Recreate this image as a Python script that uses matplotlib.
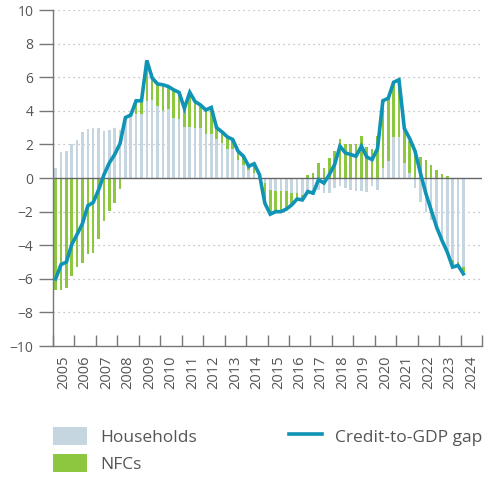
import numpy as np
import matplotlib.pyplot as plt
from matplotlib.patches import Patch
from matplotlib.lines import Line2D

plt.rcParams['font.family'] = ['Open Sans', 'DejaVu Sans']

# === Data: quarterly, 2005 Q1 - 2024 Q1 (percentage points) ===
start_year = 2005
year_labels = [str(y) for y in range(2005, 2025)]

households = [
    0.6, 1.55, 1.6, 2.05, 2.25, 2.75, 2.9, 3.0, 2.95, 2.8, 2.85, 2.95,
    2.85, 3.6, 3.7, 3.8, 3.8, 4.6, 4.65, 4.3, 4.0, 4.1, 3.6, 3.5,
    3.05, 3.05, 3.0, 2.95, 2.6, 2.6, 2.3, 2.1, 1.7, 1.7, 1.1, 0.8,
    0.5, 0.3, 0.15, -0.3, -0.7, -0.8, -0.8, -0.8, -0.9, -0.9, -1.0, -0.9,
    -1.0, -0.7, -0.9, -0.9, -0.6, -0.5, -0.6, -0.7, -0.8, -0.8, -0.85, -0.5,
    -0.7, 0.6, 1.0, 2.45, 2.45, 0.9, 0.3, -0.6, -1.4, -2.0, -2.5, -3.1,
    -3.7, -4.3, -4.9, -5.0, -5.3,
]
nfcs = [
    -6.65, -6.65, -6.55, -5.85, -5.3, -5.05, -4.5, -4.45, -3.6, -2.55, -1.95, -1.5,
    -0.65, 0.1, 0.2, 0.8, 0.8, 2.4, 1.3, 1.3, 1.55, 1.35, 1.65, 1.6,
    1.3, 2.05, 1.55, 1.4, 1.45, 1.6, 0.7, 0.65, 0.75, 0.6, 0.5, 0.5,
    0.2, 0.55, 0.1, -1.2, -1.4, -1.2, -1.2, -1.05, -0.7, -0.35, -0.3, 0.2,
    0.3, 0.9, 0.6, 1.2, 1.6, 2.3, 2.0, 2.0, 2.0, 2.5, 1.85, 1.7,
    2.5, 4.0, 3.7, 3.25, 3.4, 2.0, 1.9, 1.55, 1.25, 1.05, 0.75, 0.5,
    0.25, 0.1, -0.3, -0.2, -0.3,
]
gap = [
    -6.0, -5.15, -5.0, -3.95, -3.35, -2.7, -1.65, -1.45, -0.7, 0.2, 0.9, 1.4,
    2.05, 3.6, 3.75, 4.6, 4.6, 7.0, 5.95, 5.6, 5.55, 5.45, 5.25, 5.1,
    4.15, 5.1, 4.55, 4.35, 4.05, 4.2, 3.0, 2.75, 2.45, 2.3, 1.6, 1.3,
    0.7, 0.85, 0.2, -1.5, -2.15, -2.0, -2.0, -1.85, -1.6, -1.25, -1.3, -0.8,
    -0.9, -0.1, -0.3, 0.2, 0.8, 1.9, 1.5, 1.4, 1.3, 1.9, 1.25, 1.1,
    1.75, 4.6, 4.75, 5.7, 5.85, 2.95, 2.35, 1.6, 0.3, -0.9, -1.9, -2.9,
    -3.7, -4.4, -5.3, -5.2, -5.7,
]

# === Colours ===
c_hh = '#c5d6e0'
c_nfc = '#8dc63f'
c_gap = '#0f94b6'
c_text = '#555555'

# quarter midpoints in year units
q = np.arange(len(gap))
x = start_year + (q + 0.5) / 4
h = np.array(households)
n = np.array(nfcs)
# stack NFCs on top of households only when both have the same sign
n_bottom = np.where(np.sign(n) == np.sign(h), h, 0)

fig = plt.figure(figsize=(4.86, 4.78), dpi=100)
ax = fig.add_axes([0.109, 0.276, 0.883, 0.703])

bw = 0.12
ax.bar(x, h, width=bw, color=c_hh, zorder=2)
ax.bar(x, n, width=bw, bottom=n_bottom, color=c_nfc, zorder=2)
ax.axhline(0, color='#666666', lw=1.0, zorder=2.5)
ax.plot(x, gap, color=c_gap, lw=2.6, zorder=3, solid_joinstyle='miter')

# === Axes styling ===
ax.set_xlim(2005, 2025)
ax.set_ylim(-10, 10)
ax.set_yticks(np.arange(-10, 11, 2))
ax.set_yticklabels([str(v).replace('-', '\u2212') for v in range(-10, 11, 2)])
for yv in range(-8, 11, 2):
    if yv != 0:
        ax.axhline(yv, color='#b5b5b5', lw=0.9, ls=(0, (1, 3)), zorder=1)

ax.set_xticks(np.arange(2005, 2026))
ax.set_xticklabels([])
ax.set_xticks(np.arange(2005, 2025) + 0.5, minor=True)
ax.set_xticklabels(year_labels, minor=True, rotation=90)
ax.tick_params(axis='x', which='major', direction='in', length=8, color='#777777', width=1)
ax.tick_params(axis='x', which='minor', length=0, pad=7, labelsize=10.5, labelcolor=c_text)
ax.tick_params(axis='y', direction='out', length=10, color='#777777', width=1,
               labelsize=10, labelcolor=c_text, pad=4)

for side in ['top', 'right']:
    ax.spines[side].set_visible(False)
for side in ['left', 'bottom']:
    ax.spines[side].set_color('#777777')
    ax.spines[side].set_linewidth(1)

# === Legend ===
handles = [
    Patch(facecolor=c_hh, edgecolor='none', label='Households'),
    Patch(facecolor=c_nfc, edgecolor='none', label='NFCs'),
    Line2D([0], [0], color=c_gap, lw=2.6, label='Credit-to-GDP gap'),
]
fig.legend(handles=handles, ncol=2, loc='upper left', bbox_to_anchor=(0.109, 0.107),
           frameon=False, fontsize=12.5, labelcolor=c_text, handlelength=1.95,
           handleheight=1.2, handletextpad=0.75, columnspacing=5.3, labelspacing=0.5,
           borderpad=0, borderaxespad=0)

fig.savefig('out.png', dpi=100)
